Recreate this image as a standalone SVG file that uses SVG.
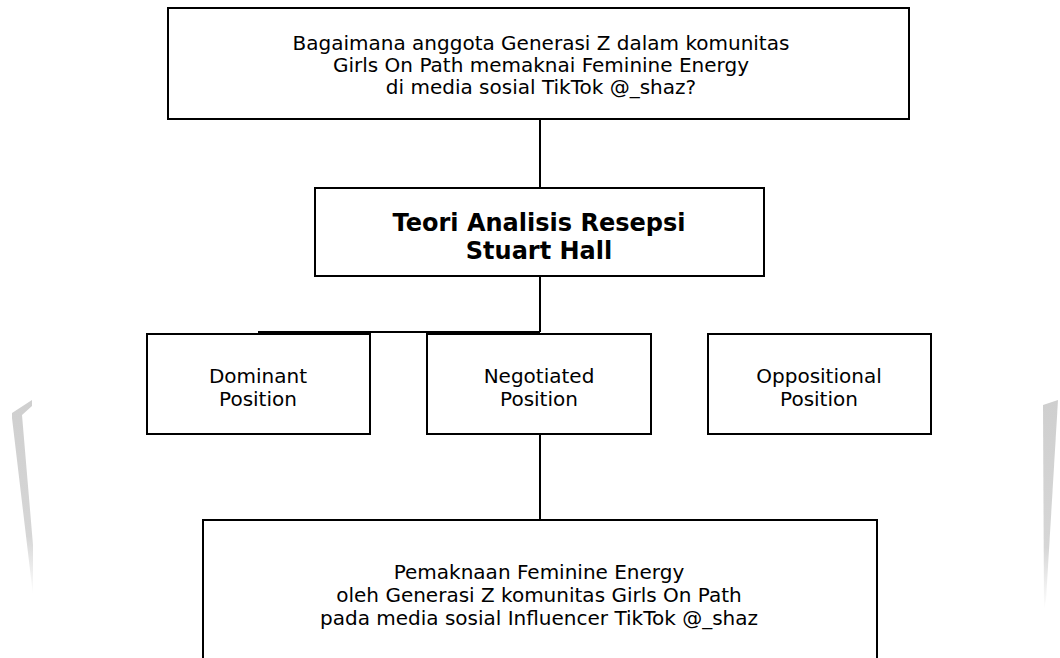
<svg xmlns="http://www.w3.org/2000/svg" width="1060" height="658" viewBox="0 0 1060 658">
  <defs>
    <style>
      .box { fill: #ffffff; stroke: #000000; stroke-width: 2; }
      .conn { fill: none; stroke: #000000; stroke-width: 2; }
      .t { font-family: "DejaVu Sans", "Liberation Sans", sans-serif; font-size: 20px; fill: #000000; text-anchor: middle; }
      .tb { font-family: "DejaVu Sans", "Liberation Sans", sans-serif; font-size: 24px; font-weight: bold; fill: #000000; text-anchor: middle; }
    </style>
    <linearGradient id="fadeL" x1="0" y1="0" x2="0" y2="1">
      <stop offset="0" stop-color="#cfcfcf"/>
      <stop offset="0.7" stop-color="#d6d6d6"/>
      <stop offset="1" stop-color="#ffffff"/>
    </linearGradient>
  </defs>
  <rect x="0" y="0" width="1060" height="658" fill="#ffffff"/>

  <!-- faint background watermark -->
  <g id="watermark">
    <polygon points="12,413 32,400 32,406 22,415 33,545 33,595 12,418" fill="url(#fadeL)"/>
    <polygon points="1043,405 1058,400 1046,600 1044,610" fill="url(#fadeL)"/>
  </g>

  <g id="connectors">
    <line class="conn" x1="540" y1="119" x2="540" y2="188"/>
    <line class="conn" x1="540" y1="276" x2="540" y2="332"/>
    <line class="conn" x1="258" y1="332" x2="540" y2="332"/>
    <line class="conn" x1="540" y1="434" x2="540" y2="520"/>
  </g>

  <g id="node-question">
    <rect class="box" x="168" y="8" width="741" height="111"/>
    <text class="t" x="541" y="50">Bagaimana anggota Generasi Z dalam komunitas</text>
    <text class="t" x="541" y="72">Girls On Path memaknai Feminine Energy</text>
    <text class="t" x="541" y="94">di media sosial TikTok @_shaz?</text>
  </g>

  <g id="node-theory">
    <rect class="box" x="315" y="188" width="449" height="88"/>
    <text class="tb" x="539" y="231">Teori Analisis Resepsi</text>
    <text class="tb" x="539" y="259">Stuart Hall</text>
  </g>

  <g id="node-dominant">
    <rect class="box" x="147" y="334" width="223" height="100"/>
    <text class="t" x="258" y="383">Dominant</text>
    <text class="t" x="258" y="406">Position</text>
  </g>

  <g id="node-negotiated">
    <rect class="box" x="427" y="334" width="224" height="100"/>
    <text class="t" x="539" y="383">Negotiated</text>
    <text class="t" x="539" y="406">Position</text>
  </g>

  <g id="node-oppositional">
    <rect class="box" x="708" y="334" width="223" height="100"/>
    <text class="t" x="819" y="383">Oppositional</text>
    <text class="t" x="819" y="406">Position</text>
  </g>

  <g id="node-result">
    <rect class="box" x="203" y="520" width="674" height="150"/>
    <text class="t" x="539" y="579">Pemaknaan Feminine Energy</text>
    <text class="t" x="539" y="602">oleh Generasi Z komunitas Girls On Path</text>
    <text class="t" x="539" y="625">pada media sosial Influencer TikTok @_shaz</text>
  </g>
</svg>
